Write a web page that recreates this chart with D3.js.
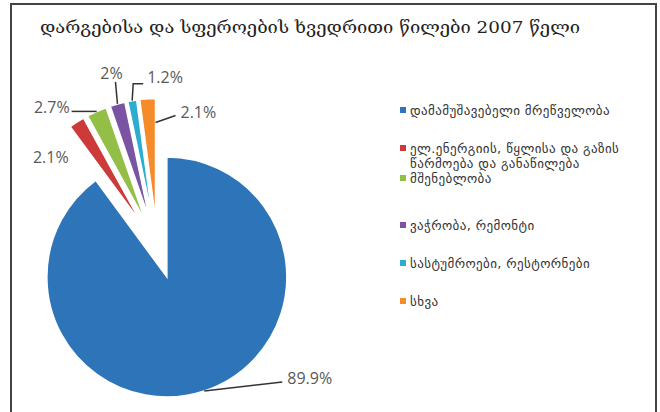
<!DOCTYPE html>
<html>
<head>
<meta charset="utf-8">
<script src="https://cdn.jsdelivr.net/npm/d3@7"></script>
<style>
    body { margin: 0; background: #fff; }
    svg { display: block; }
</style>
</head>
<body>
<div id="chart"></div>
<script>
const title = "დარგებისა და სფეროების ხვედრითი წილები 2007 წელი";
const categories = [
    "დამამუშავებელი მრეწველობა",
    "ელ.ენერგიის, წყლისა და გაზის წარმოება და განაწილება",
    "მშენებლობა",
    "ვაჭრობა, რემონტი",
    "სასტუმროები, რესტორნები",
    "სხვა"
];
const shares = [89.9, 2.1, 2.7, 2, 1.2, 2.1];
const valueLabels = ["89.9%", "2.1%", "2.7%", "2%", "1.2%", "2.1%"];
const colors = ["#2e74b8", "#cc3a3a", "#93bf46", "#7a53a3", "#2cadcf", "#f68b2a"];

const width = 660, height = 412;
const cx = 157.5, cy = 248.5, radius = 120, explode = 30;

const svg = d3.select("#chart")
    .append("svg")
    .attr("width", width)
    .attr("height", height);

// frame
svg.append("rect")
    .attr("x", 11).attr("y", 4)
    .attr("width", 645).attr("height", 420)
    .style("fill", "none")
    .style("stroke", "#444")
    .style("stroke-width", 2);

svg.append("text")
    .attr("x", 40).attr("y", 33)
    .attr("textLength", 540)
    .attr("lengthAdjust", "spacingAndGlyphs")
    .text(title)
    .style("font-family", "'DejaVu Serif', 'DejaVu Sans', serif")
    .style("font-size", "17px")
    .style("fill", "#222");

const pie = d3.pie().sort(null).value(d => d);
const arcs = pie(shares);
const arc = d3.arc().innerRadius(0).outerRadius(radius);

// point at angle a (d3 convention) and distance r from the exploded center
const polar = (a, r) => [Math.sin(a) * r, -Math.cos(a) * r];
const mid = d => (d.startAngle + d.endAngle) / 2;
const shift = d => polar(mid(d), explode);

const g = svg.append("g").attr("transform", `translate(${cx},${cy})`);

g.selectAll("path.slice")
    .data(arcs)
    .enter().append("path")
    .attr("class", "slice")
    .attr("transform", d => `translate(${shift(d)})`)
    .attr("d", arc)
    .style("fill", (d, i) => colors[i])
    .style("stroke", "#fff")
    .style("stroke-width", 1.5);

// label layout: text offset from anchor, leader shape
const labelLayout = [
    { dx: 83, dy: -13, anchor: "start", lead: [[78, -9]] },
    { dx: -26, dy: 35, anchor: "middle", lead: [] },
    { dx: -27, dy: -4, anchor: "end", lead: [[-25, 0]] },
    { dx: -6, dy: -31, anchor: "middle", lead: [[-2, -22]] },
    { dx: 15, dy: -23, anchor: "start", lead: [[1, -17], [11, -17]] },
    { dx: 25, dy: -10, anchor: "start", lead: [[20, -7]] }
];

const anchorOf = (d, i) => {
    const s = shift(d);
    if (i === 5) {
        const p = polar(d.endAngle, radius * 0.8);
        return [s[0] + p[0], s[1] + p[1]];
    }
    const p = polar(mid(d), radius);
    return [s[0] + p[0], s[1] + p[1]];
};

arcs.forEach((d, i) => {
    const a = anchorOf(d, i);
    const L = labelLayout[i];
    if (L.lead.length) {
        const pts = [a].concat(L.lead.map(p => [a[0] + p[0], a[1] + p[1]]));
        g.append("path")
            .attr("d", d3.line()(pts))
            .style("fill", "none")
            .style("stroke", "#333")
            .style("stroke-width", 1.5);
    }
    g.append("text")
        .attr("x", a[0] + L.dx)
        .attr("y", a[1] + L.dy)
        .attr("dy", "0.35em")
        .attr("text-anchor", L.anchor)
        .text(valueLabels[i])
        .style("font-family", "'Open Sans', sans-serif")
        .style("font-size", "16px")
        .style("fill", "#595959");
});

// legend
const legendRows = [110, 148, 178, 225, 263, 301];
const wrapLegend = [[categories[0]], ["ელ.ენერგიის, წყლისა და გაზის", "წარმოება და განაწილება"],
    [categories[2]], [categories[3]], [categories[4]], [categories[5]]];

const legend = svg.append("g");
categories.forEach((c, i) => {
    const row = legend.append("g").attr("transform", `translate(400,${legendRows[i]})`);
    row.append("rect")
        .attr("x", 0).attr("y", -3)
        .attr("width", 6).attr("height", 6)
        .style("fill", colors[i]);
    const t = row.append("text")
        .attr("x", 10).attr("y", 0)
        .style("font-family", "'DejaVu Sans', sans-serif")
        .style("font-size", "13px")
        .style("letter-spacing", "0.4px")
        .style("fill", "#333");
    wrapLegend[i].forEach((line, j) => {
        t.append("tspan").attr("x", 10).attr("dy", j === 0 ? "0.35em" : "15px").text(line);
    });
});
</script>
</body>
</html>
